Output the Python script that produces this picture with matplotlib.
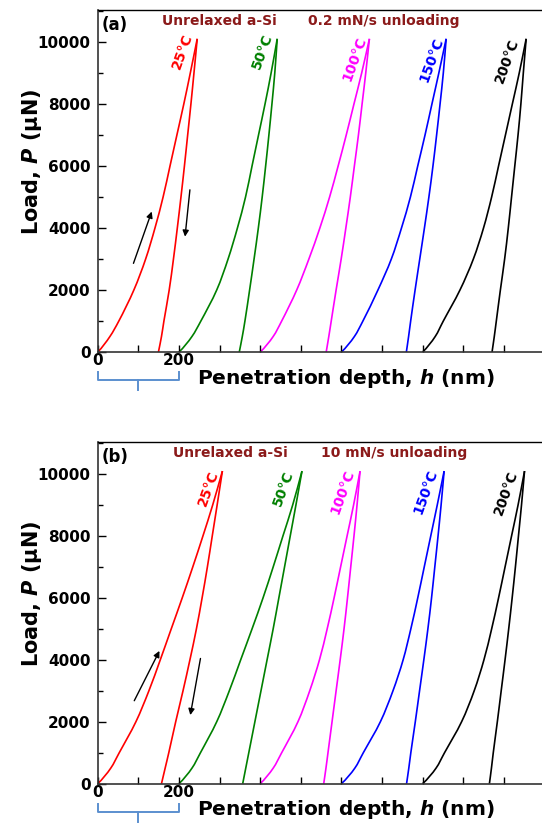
import numpy as np
import matplotlib.pyplot as plt
from matplotlib.path import Path
from matplotlib.patches import PathPatch
from matplotlib.ticker import MultipleLocator

plt.rcParams['font.family'] = 'DejaVu Sans'
plt.rcParams['font.weight'] = 'bold'
plt.rcParams['mathtext.fontset'] = 'custom'
plt.rcParams['mathtext.it'] = 'DejaVu Sans:italic:bold'
plt.rcParams['mathtext.rm'] = 'DejaVu Sans:bold'

# load levels (uN) shared by all branches
loads = [0, 500, 1000, 2000, 3000, 4000, 5000, 6000, 7000, 8000, 9000, 10100]

temps = ['25°C', '50°C', '100°C', '150°C', '200°C']
colors = ['#ff0000', '#008000', '#ff00ff', '#0000ff', '#000000']
offsets = [0, 200, 400, 600, 800]

# depth (nm, relative to each curve's shift) on loading / unloading
a_load = [
    [0, 30, 52, 89, 118, 141, 161, 178, 195, 212, 228, 245],
    [0, 32, 54, 93, 121, 144, 164, 180, 196, 212, 227, 242],
    [0, 32, 53, 90, 120, 147, 171, 192, 212, 231, 250, 269],
    [0, 32, 53, 90, 123, 148, 170, 188, 206, 223, 240, 258],
    [0, 31, 51, 92, 125, 150, 170, 187, 204, 221, 238, 255],
]
a_unload = [
    [149.5, 157, 163, 176, 186.5, 196, 205, 213.5, 221.5, 229.5, 237, 245],
    [148.6, 156, 162.5, 174, 185, 195.5, 205, 213.5, 221.5, 229, 236, 242],
    [162.6, 169, 175, 187, 199.5, 211, 222, 232, 242, 251, 260, 269],
    [160, 165.5, 170.6, 181.5, 193, 204.5, 215.5, 225.5, 234.5, 243, 251, 258],
    [171, 176.5, 181.5, 191.5, 202, 211, 219, 227, 235, 242, 248, 255],
]
b_load = [
    [0, 32, 53, 94, 126, 154, 181, 208, 234, 259, 283, 307],
    [0, 32, 53, 93, 124, 152, 180, 207, 232, 256, 280, 303],
    [0, 32, 53, 93, 122, 146, 165, 182, 198, 214, 230, 246],
    [0, 33, 54, 96, 127, 152, 171, 188, 204, 220, 236, 253],
    [0, 33, 54, 96, 127, 151, 170, 187, 203, 219, 235, 251],
]
b_unload = [
    [157, 166, 175, 192, 210, 227, 243, 257, 270, 282, 294, 307],
    [157, 164.5, 172, 187, 202, 217, 232, 246, 260, 274, 288, 303],
    [156.5, 162, 167, 177, 187, 197, 206.5, 215, 223, 231, 238.5, 246],
    [160.5, 166, 171, 182, 192.5, 203, 213, 222, 230, 238, 245.5, 253],
    [164.5, 169.5, 174, 184, 193.5, 203, 212, 220.5, 228.5, 236, 243.5, 251],
]

# temperature tag positions (nm, uN)
a_tag_xy = [(209, 9690), (405, 9680), (632, 9445), (821, 9420), (1007, 9390)]
b_tag_xy = [(273, 9555), (456, 9540), (604, 9420), (808, 9420), (1006, 9395)]

darkred = '#8b1a1a'


def smooth_path(x, y, flat_start=False, sx=0.406, sy=0.031):
    # centripetal Catmull-Rom through the points, as cubic Bezier segments;
    # distances are measured in (roughly) screen units
    pts = np.column_stack([np.asarray(x, float) * sx,
                           np.asarray(y, float) * sy])
    first = pts[0] - (pts[1] - pts[0]) * ([1, 0.6] if flat_start else 1)
    ext = np.vstack([first, pts, 2 * pts[-1] - pts[-2]])
    verts = [pts[0]]
    codes = [Path.MOVETO]
    for i in range(len(pts) - 1):
        p0, p1, p2, p3 = ext[i], ext[i + 1], ext[i + 2], ext[i + 3]
        d1 = np.hypot(*(p1 - p0)) ** 0.5
        d2 = np.hypot(*(p2 - p1)) ** 0.5
        d3 = np.hypot(*(p3 - p2)) ** 0.5
        b1 = (d1**2 * p2 - d2**2 * p0 + (2 * d1**2 + 3 * d1 * d2 + d2**2) * p1) \
            / (3 * d1 * (d1 + d2))
        b2 = (d3**2 * p1 - d2**2 * p3 + (2 * d3**2 + 3 * d3 * d2 + d2**2) * p2) \
            / (3 * d3 * (d3 + d2))
        verts += [b1, b2, p2]
        codes += [Path.CURVE4] * 3
    verts = np.array(verts) / [sx, sy]
    return Path(verts, codes)


fig = plt.figure(figsize=(5.42, 8.25), dpi=100)
ax_a = fig.add_axes([0.1803, 0.5733, 0.8197, 0.4146])
ax_b = fig.add_axes([0.1803, 0.0501, 0.8197, 0.4138])


def draw_panel(ax, load_d, unload_d, tags, tag_label, rate_label, rate_x,
               title_x, arrows):
    for i in range(5):
        p = smooth_path(offsets[i] + np.array(load_d[i]), loads, True)
        ax.add_patch(PathPatch(p, fill=False, edgecolor=colors[i], lw=1.2))
        p = smooth_path(offsets[i] + np.array(unload_d[i]), loads)
        ax.add_patch(PathPatch(p, fill=False, edgecolor=colors[i], lw=1.2))
        ax.text(tags[i][0], tags[i][1], temps[i], color=colors[i],
                rotation=70, ha='center', va='center', fontsize=10,
                fontweight='bold')

    ax.set_xlim(0, 1094)
    ax.set_ylim(0, 11030)
    ax.set_xticks(np.arange(0, 1001, 100))
    ax.set_xticklabels(['0', '', '200'] + [''] * 8)
    ax.set_yticks(np.arange(0, 10001, 2000))
    ax.yaxis.set_minor_locator(MultipleLocator(1000))
    ax.tick_params(axis='y', which='major', direction='in', length=6,
                   width=1, labelsize=11, pad=5)
    ax.tick_params(axis='y', which='minor', direction='in', length=3.5,
                   width=1)
    ax.tick_params(axis='x', which='major', direction='in', length=5,
                   width=1, labelsize=11, pad=1)
    for lab in ax.get_xticklabels() + ax.get_yticklabels():
        lab.set_fontweight('bold')
    ax.spines['right'].set_visible(False)
    for s in ['left', 'bottom']:
        ax.spines[s].set_color('#333333')
        ax.spines[s].set_linewidth(1.2)
    ax.spines['top'].set_linewidth(1.0)

    ax.text(0.009, 0.983, tag_label, transform=ax.transAxes, ha='left',
            va='top', fontsize=12, fontweight='bold')
    ax.text(title_x, 0.968, 'Unrelaxed a-Si', transform=ax.transAxes,
            ha='center', va='center', fontsize=10, color=darkred,
            fontweight='bold')
    ax.text(rate_x, 0.968, rate_label, transform=ax.transAxes,
            ha='center', va='center', fontsize=10, color=darkred,
            fontweight='bold')

    ax.text(0.559, -0.076, r'Penetration depth, $h$ (nm)',
            transform=ax.transAxes, ha='center', va='center', fontsize=14.5,
            fontweight='bold')
    ax.text(-0.148, 0.557, r'Load, $P$ (μN)', transform=ax.transAxes,
            ha='center', va='center', rotation=90, fontsize=15,
            fontweight='bold')

    for (x0, y0), (x1, y1) in arrows:
        ax.annotate('', xy=(x1, y1), xytext=(x0, y0),
                    arrowprops=dict(arrowstyle='-|>', color='black', lw=1.0,
                                    mutation_scale=9, shrinkA=0, shrinkB=0))

    # brace marking the 200 nm offset
    brace = '#5b8fcf'
    ax.plot([0, 0, 200, 200], [-650, -900, -900, -650], color=brace,
            lw=1.4, clip_on=False)
    ax.plot([100, 100], [-900, -1230], color=brace, lw=1.4, clip_on=False)


draw_panel(ax_a, a_load, a_unload, a_tag_xy, '(a)', '0.2 mN/s unloading',
           (384 - 97.7) / 444.3, (219 - 97.7) / 444.3,
           [((88, 2860), (133, 4530)), ((227, 5230), (215, 3720))])
draw_panel(ax_b, b_load, b_unload, b_tag_xy, '(b)', '10 mN/s unloading',
           (394.5 - 97.7) / 444.3, (230.7 - 97.7) / 444.3,
           [((90, 2680), (152, 4290)), ((253, 4045), (228, 2216))])

fig.savefig('out.png', dpi=100)
